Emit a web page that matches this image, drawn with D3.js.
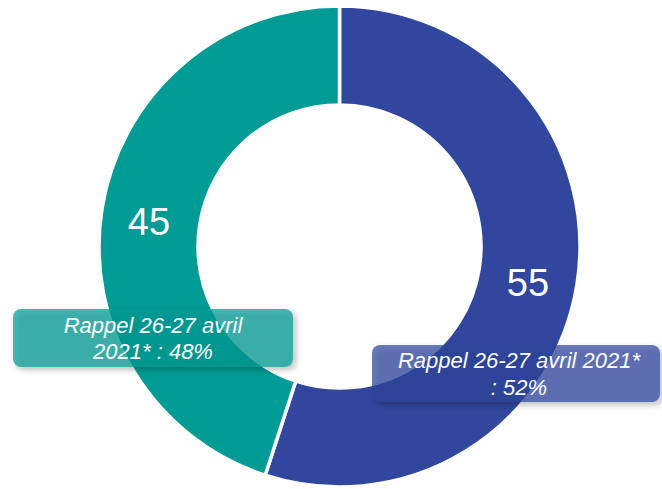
<!DOCTYPE html>
<html><head><meta charset="utf-8">
<script src="https://cdn.jsdelivr.net/npm/d3@7"></script>
<style>html,body{margin:0;padding:0;background:#fff;}svg{display:block;}</style>
</head><body>
<svg id="c" width="662" height="489"></svg>
<script>
const categories = ["B", "A"];
const values = [55, 45];
const colors = ["#31479E", "#009B95"];
const valueLabels = ["55", "45"];
const recallLines = [["Rappel 26-27 avril 2021*", ": 52%"], ["Rappel 26-27 avril", "2021* : 48%"]];

const svg = d3.select("#c");
const defs = svg.append("defs");
const f = defs.append("filter").attr("id","sh").attr("x","-10%").attr("y","-20%").attr("width","130%").attr("height","160%");
f.append("feDropShadow").attr("dx",3).attr("dy",3).attr("stdDeviation",3).attr("flood-color","#000").attr("flood-opacity",0.35);

const cx = 339.5, cy = 246.5, rOut = 240.5, rIn = 141.5;
const pie = d3.pie().sort(null).value(d => d)(values);
const arc = d3.arc().innerRadius(rIn).outerRadius(rOut);
const g = svg.append("g").attr("transform", `translate(${cx},${cy})`);
g.selectAll("path").data(pie).join("path")
  .attr("d", arc).attr("fill", (d,i) => colors[i])
  .attr("stroke", "#fff").attr("stroke-width", 3.5).attr("stroke-linejoin","miter");

const labelPos = [[528-cx, 283-cy], [149-cx, 222-cy]];
g.selectAll("text.v").data(pie).join("text").attr("class","v")
  .attr("x", (d,i) => labelPos[i][0]).attr("y", (d,i) => labelPos[i][1])
  .attr("text-anchor","middle").attr("dominant-baseline","central")
  .attr("fill","#fff").attr("font-family","Liberation Sans, Arial, sans-serif")
  .attr("font-size", 38).text((d,i) => valueLabels[i]);

const boxes = [
  {x:372, y:345, w:288, h:57, cx:519, y1:368, y2:395},
  {x:13, y:309, w:280, h:58, cx:153, y1:333, y2:359}
];
boxes.forEach((b, i) => {
  svg.append("rect").attr("x", b.x).attr("y", b.y).attr("width", b.w).attr("height", b.h)
    .attr("rx", 8).attr("fill", colors[i]).attr("fill-opacity", 0.7).attr("filter","url(#sh)");
  const t = svg.append("text").attr("text-anchor","middle").attr("fill","#fff")
    .attr("font-family","Liberation Sans, Arial, sans-serif").attr("font-style","italic").attr("font-size", 22);
  t.append("tspan").attr("x", b.cx).attr("y", b.y1).text(recallLines[i][0]);
  t.append("tspan").attr("x", b.cx).attr("y", b.y2).text(recallLines[i][1]);
});
</script>
</body></html>
